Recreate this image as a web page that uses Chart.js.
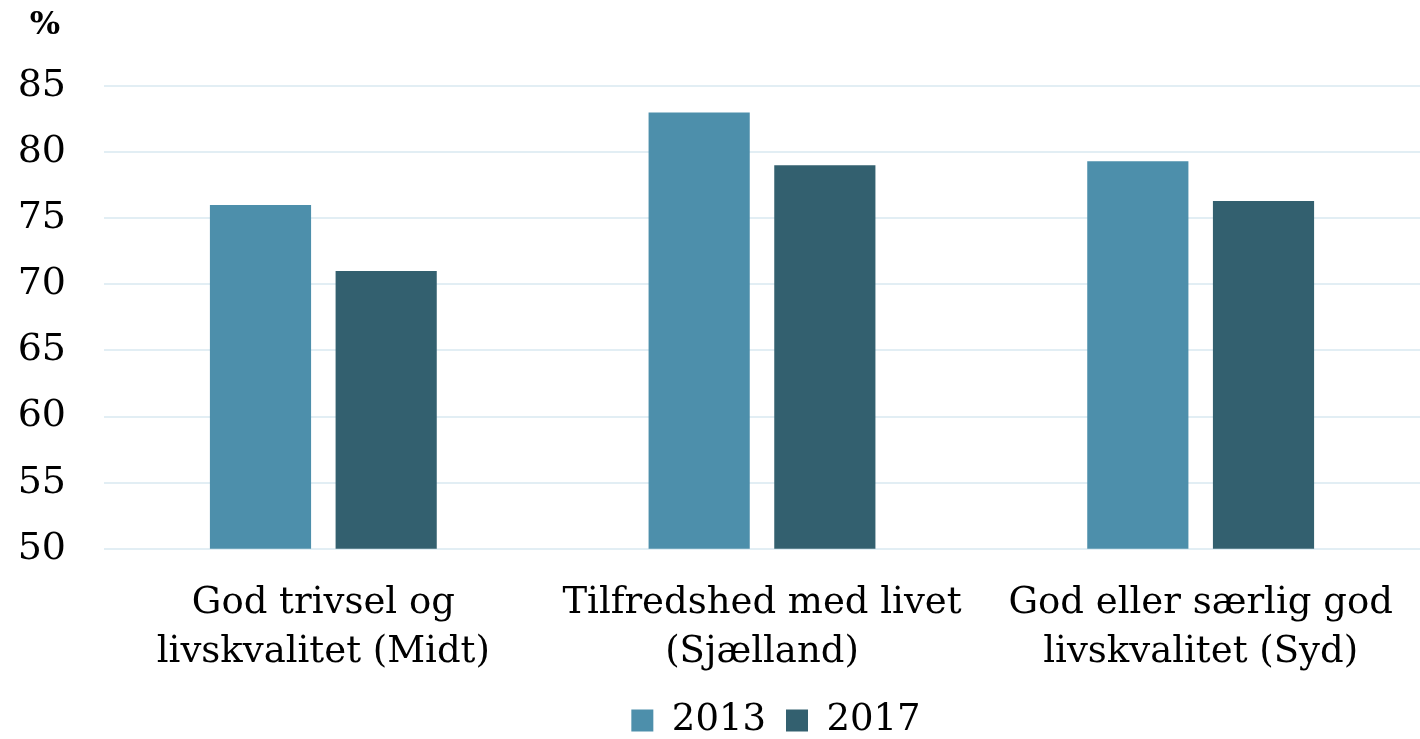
<!DOCTYPE html>
<html>
<head>
<meta charset="utf-8">
<script src="https://cdn.jsdelivr.net/npm/chart.js@4"></script>
<style>
  html, body { margin: 0; padding: 0; background: #fff; }
  #wrap { width: 1420px; height: 739px; }
</style>
</head>
<body>
<div id="wrap"><canvas id="myChart"></canvas></div>
<script>
const categories = [
	["God trivsel og", "livskvalitet (Midt)"],
	["Tilfredshed med livet", "(Sjælland)"],
	["God eller særlig god", "livskvalitet (Syd)"]
];
const values2013 = [76, 83, 79.3];
const values2017 = [71, 79, 76.3];
const yTicks = [50, 55, 60, 65, 70, 75, 80, 85];

const serif = "'DejaVu Serif', Georgia, serif";

// "%" label above the y ticks, legend nudged right
const unitLabel = {
	id: 'unitLabel',
	afterLayout(chart) {
		chart.legend.left += 14;
		chart.legend.right += 14;
	},
	afterDraw(chart) {
		const c = chart.ctx;
		c.save();
		c.font = "bold 32px " + serif;
		c.fillStyle = '#000';
		c.textAlign = 'center';
		c.textBaseline = 'middle';
		c.fillText('%', 45, 26);
		c.restore();
	}
};

var ctx = document.getElementById("myChart");
var myChart = new Chart(ctx, {
	type: 'bar',
	data: {
		labels: categories,
		datasets: [{
			label: '2013',
			data: values2013,
			backgroundColor: '#4d8fab',
			barPercentage: 0.805,
			categoryPercentage: 0.573
		}, {
			label: '2017',
			data: values2017,
			backgroundColor: '#33606f',
			barPercentage: 0.805,
			categoryPercentage: 0.573
		}]
	},
	options: {
		responsive: true,
		maintainAspectRatio: false,
		animation: false,
		layout: { padding: { top: 86, left: 0, right: 0, bottom: -10 } },
		scales: {
			x: {
				grid: { display: false },
				border: { display: false },
				ticks: { color: '#000', font: { family: serif, size: 37, lineHeight: 1.3 }, padding: 23 },
				afterFit(axis) {
					axis.paddingLeft = 0;
					axis.paddingRight = 0;
					axis.height -= 17;
				}
			},
			y: {
				min: 50,
				max: 85,
				afterBuildTicks(axis) {
					axis.ticks = yTicks.map(v => ({ value: v }));
				},
				afterFit(axis) {
					axis.width = 104;
				},
				grid: { color: '#e2eef4', lineWidth: 2, drawTicks: false },
				border: { display: false },
				ticks: { color: '#000', font: { family: serif, size: 38 }, padding: 38 }
			}
		},
		plugins: {
			legend: {
				position: 'bottom',
				fullSize: false,
				labels: {
					color: '#000',
					font: { family: serif, size: 37, lineHeight: 1.0 },
					boxWidth: 22,
					boxHeight: 22,
					padding: 20
				}
			},
			tooltip: { enabled: false }
		}
	},
	plugins: [unitLabel]
});
</script>
</body>
</html>
